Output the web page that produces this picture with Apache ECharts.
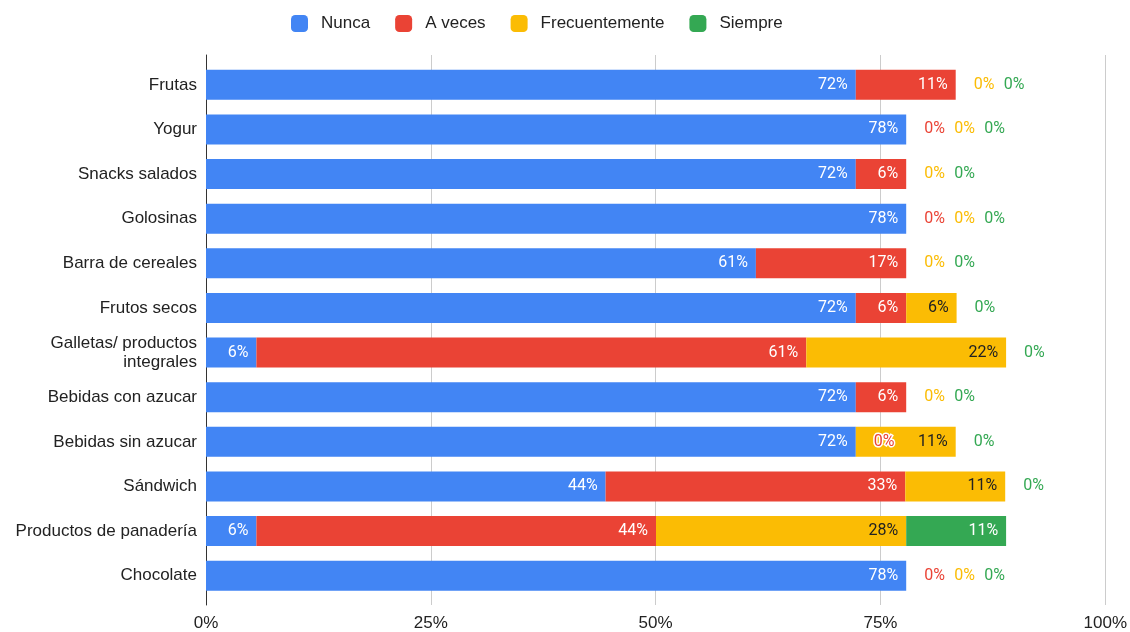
<!DOCTYPE html>
<html>
<head>
<meta charset="utf-8">
<script src="https://cdn.jsdelivr.net/npm/echarts@6/dist/echarts.min.js"></script>
<style>
  html, body { margin: 0; padding: 0; background: #fff; }
  #chart { width: 1130px; height: 632px; }
</style>
</head>
<body>
<div id="chart"></div>
<script>
// Consumption frequency per snack type (share of respondents, %)
const categories = [
  'Frutas', 'Yogur', 'Snacks salados', 'Golosinas', 'Barra de cereales',
  'Frutos secos', 'Galletas/ productos\nintegrales', 'Bebidas con azucar',
  'Bebidas sin azucar', 'Sándwich', 'Productos de panadería', 'Chocolate'
];
const nunca          = [72.2, 77.8, 72.2, 77.8, 61.1, 72.2,  5.6, 72.2, 72.2, 44.4,  5.6, 77.8];
const aVeces         = [11.1,    0,  5.6,    0, 16.7,  5.6, 61.1,  5.6,    0, 33.3, 44.4,    0];
const frecuentemente = [   0,    0,    0,    0,    0,  5.6, 22.2,    0, 11.1, 11.1, 27.8,    0];
const siempre        = [   0,    0,    0,    0,    0,    0,    0,    0,    0,    0, 11.1,    0];
const seriesNames = ['Nunca', 'A veces', 'Frecuentemente', 'Siempre'];
const xTicks = [0, 25, 50, 75, 100];

const colors = ['#4285F4', '#EA4335', '#FBBC04', '#34A853'];
const insideText = ['#ffffff', '#ffffff', '#222222', '#ffffff'];
const allValues = [nunca, aVeces, frecuentemente, siempre];

// zero-valued segments get their label pushed to the right, one after another
const zeroRun = categories.map(() => 0);
const series = allValues.map((vals, si) => ({
  name: seriesNames[si],
  type: 'bar',
  stack: 'total',
  xAxisIndex: 0,
  yAxisIndex: 0,
  barWidth: 30,
  itemStyle: { color: colors[si] },
  label: {
    show: true,
    position: 'insideRight',
    distance: 8,
    color: insideText[si],
    fontFamily: 'Roboto',
    fontSize: 16,
    formatter: p => Math.round(p.value) + '%'
  },
  data: vals.map((v, ci) => {
    if (v !== 0) { zeroRun[ci] = 0; return { value: v }; }
    const k = zeroRun[ci]++;
    return {
      value: v,
      label: {
        position: 'right',
        distance: 18,
        offset: [30 * k, 0],
        color: colors[si],
        textBorderColor: '#ffffff',
        textBorderWidth: 3
      }
    };
  })
}));

const chart = echarts.init(document.getElementById('chart'), null, { renderer: 'canvas' });
chart.setOption({
  animation: false,
  textStyle: { fontFamily: 'Liberation Sans' },
  legend: {
    data: seriesNames,
    top: 15,
    left: 291,
    padding: 0,
    icon: 'roundRect',
    itemWidth: 17,
    itemHeight: 17,
    itemGap: 25,
    textStyle: { fontSize: 17, color: '#222', fontFamily: 'Liberation Sans', padding: [0, 0, 0, 8] }
  },
  grid: [
    { left: 206, right: 24, top: 62.5, height: 535.5 },
    { left: 206, right: 24, top: 55, bottom: 27 }
  ],
  xAxis: [
    { type: 'value', gridIndex: 0, min: 0, max: 100, show: false },
    {
      type: 'value', gridIndex: 1, min: xTicks[0], max: xTicks[xTicks.length - 1], interval: 25,
      axisLine: { show: false },
      axisTick: { show: false },
      splitLine: { show: true, lineStyle: { color: '#cccccc', width: 1 } },
      axisLabel: { formatter: '{value}%', fontSize: 17, color: '#222', margin: 10, fontFamily: 'Liberation Sans' }
    }
  ],
  yAxis: [
    {
      type: 'category', gridIndex: 0, data: categories, inverse: true,
      axisLine: { show: false },
      axisTick: { show: false },
      axisLabel: { fontSize: 17, color: '#222', margin: 9, lineHeight: 19, fontFamily: 'Liberation Sans' }
    },
    {
      type: 'value', gridIndex: 1, min: 0, max: 1,
      axisLine: { show: true, lineStyle: { color: '#333333', width: 1 } },
      axisTick: { show: false },
      axisLabel: { show: false },
      splitLine: { show: false }
    }
  ],
  series: series
});
</script>
</body>
</html>
